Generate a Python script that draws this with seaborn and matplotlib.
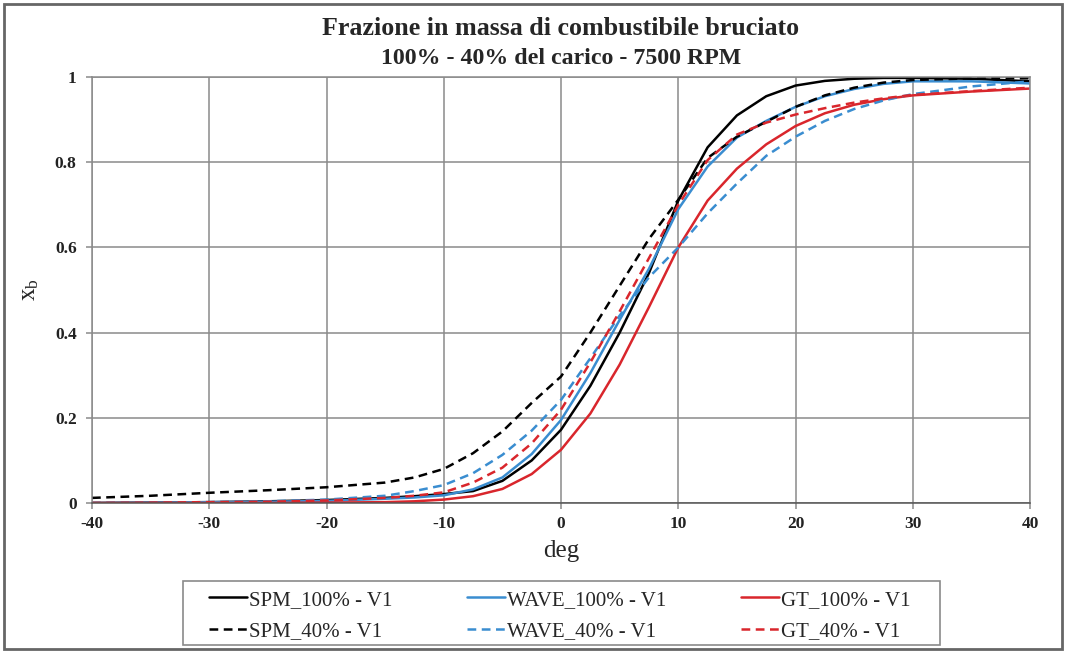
import matplotlib
matplotlib.use("Agg")
import matplotlib.pyplot as plt
import seaborn as sns
import pandas as pd
from matplotlib.patches import Rectangle

# crank angle (deg) at which the curves were read
deg = [-40, -35, -30, -25, -20, -15, -12.5, -10, -7.5, -5, -2.5, 0, 2.5, 5,
       7.5, 10, 12.5, 15, 17.5, 20, 22.5, 25, 27.5, 30, 35, 40]

spm_100 = [0.0, 0.001, 0.002, 0.004, 0.007, 0.012, 0.016, 0.021, 0.028, 0.052, 0.10, 0.172, 0.275, 0.40,
           0.54, 0.71, 0.835, 0.91, 0.955, 0.98, 0.991, 0.996, 0.998, 0.998, 0.996, 0.99]
wave_100 = [0.0, 0.001, 0.002, 0.003, 0.005, 0.010, 0.013, 0.018, 0.032, 0.06, 0.115, 0.195, 0.305, 0.43,
            0.55, 0.69, 0.79, 0.858, 0.897, 0.93, 0.955, 0.972, 0.984, 0.99, 0.99, 0.985]
gt_100 = [0.0, 0.0, 0.0, 0.0, 0.001, 0.002, 0.004, 0.008, 0.016, 0.033, 0.068, 0.125, 0.21, 0.325,
          0.46, 0.60, 0.71, 0.785, 0.842, 0.885, 0.915, 0.935, 0.948, 0.957, 0.966, 0.973]
spm_40 = [0.012, 0.017, 0.024, 0.03, 0.037, 0.048, 0.06, 0.08, 0.117, 0.168, 0.235, 0.297, 0.40, 0.51,
          0.62, 0.712, 0.81, 0.86, 0.895, 0.93, 0.957, 0.975, 0.987, 0.993, 0.997, 0.997]
wave_40 = [0.0, 0.001, 0.002, 0.004, 0.008, 0.017, 0.028, 0.042, 0.07, 0.113, 0.17, 0.242, 0.34, 0.44,
           0.53, 0.60, 0.68, 0.75, 0.815, 0.86, 0.897, 0.925, 0.945, 0.96, 0.978, 0.99]
gt_40 = [0.0, 0.001, 0.002, 0.003, 0.006, 0.012, 0.017, 0.025, 0.048, 0.083, 0.14, 0.219, 0.33, 0.45,
         0.575, 0.70, 0.805, 0.865, 0.893, 0.912, 0.927, 0.94, 0.95, 0.958, 0.967, 0.975]

labels = ["SPM_100% - V1", "WAVE_100% - V1", "GT_100% - V1",
          "SPM_40% - V1", "WAVE_40% - V1", "GT_40% - V1"]
series = [spm_100, wave_100, gt_100, spm_40, wave_40, gt_40]

colors = {"SPM": "#000000", "WAVE": "#3a8dd0", "GT": "#d9262c"}

sns.set_theme(style="whitegrid")
plt.rcParams["font.family"] = ["Liberation Serif", "DejaVu Serif"]
plt.rcParams["mathtext.fontset"] = "custom"
plt.rcParams["mathtext.rm"] = "Liberation Serif"
plt.rcParams["axes.unicode_minus"] = False

fig = plt.figure(figsize=(10.66, 6.53), dpi=100)
ax = fig.add_axes([0.0863, 0.2297, 0.88, 0.6523])

handles = {}
for name, vals in zip(labels, series):
    df = pd.DataFrame({"deg": deg, "xb": vals})
    sns.lineplot(data=df, x="deg", y="xb", ax=ax, color=colors[name.split("_")[0]],
                 linewidth=1.8, label=name)
    ln = ax.lines[-1]
    if "40%" in name:
        ln.set_dashes((3.5, 2.2))
    handles[name] = ln

ax.set_xlim(-40, 40)
ax.set_ylim(0, 1)
ax.set_xticks(range(-40, 41, 10))
ax.set_yticks([0, 0.2, 0.4, 0.6, 0.8, 1])
ax.set_yticklabels(["0", "0.2", "0.4", "0.6", "0.8", "1"])
ax.tick_params(labelsize=12.5, labelcolor="#222222", color="#8a8a8a", length=4,
               width=1.1, direction="out", bottom=True, left=True)
ax.tick_params(axis="y", pad=7)
ax.tick_params(axis="x", pad=5)
for t in ax.get_xticklabels() + ax.get_yticklabels():
    t.set_fontweight("bold")
ax.grid(True, color="#8a8a8a", linewidth=1.1)
for s in ax.spines.values():
    s.set_visible(True)
    s.set_color("#8a8a8a")
    s.set_linewidth(1.1)
ax.spines["bottom"].set_color("#555555")

ax.set_xlabel("deg", fontsize=18, labelpad=6)
ax.set_ylabel(r"$\mathregular{x_b}$", fontsize=18, labelpad=10)

fig.text(0.526, 0.957, "Frazione in massa di combustibile bruciato", ha="center", va="center",
         fontsize=18.7, fontweight="bold")
fig.text(0.526, 0.911, "100% - 40% del carico - 7500 RPM", ha="center", va="center",
         fontsize=17.2, fontweight="bold")

ax.get_legend().remove()
order = ["SPM_100% - V1", "SPM_40% - V1", "WAVE_100% - V1", "WAVE_40% - V1",
         "GT_100% - V1", "GT_40% - V1"]
leg = fig.legend([handles[n] for n in order], order, loc="center",
                 bbox_to_anchor=(0.525, 0.0574), ncol=3, fontsize=15, frameon=False,
                 handlelength=1.8, handletextpad=0.1, labelspacing=0.55, columnspacing=3.6,
                 borderpad=0)

# legend box and outer chart border
fig.patches.append(Rectangle((0.1717, 0.0123), 0.7101, 0.098, transform=fig.transFigure,
                             fill=False, edgecolor="#8a8a8a", linewidth=1.2))
fig.patches.append(Rectangle((0.004, 0.006), 0.992, 0.988, transform=fig.transFigure,
                             fill=False, edgecolor="#666666", linewidth=2))

fig.savefig("out.png", dpi=100)
